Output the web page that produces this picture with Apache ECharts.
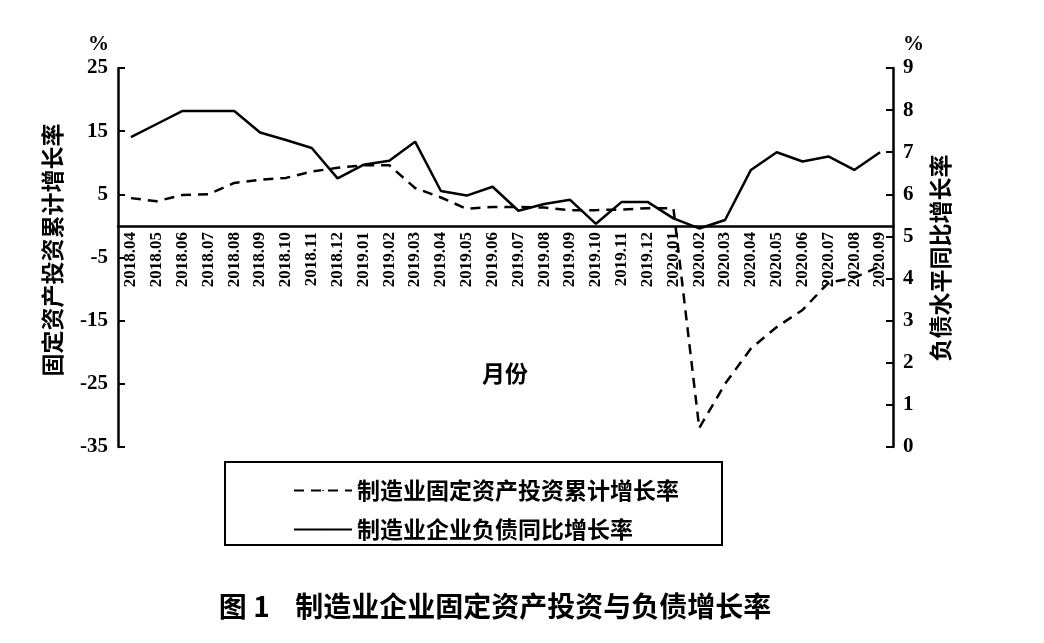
<!DOCTYPE html>
<html><head><meta charset="utf-8">
<script src="https://cdn.jsdelivr.net/npm/echarts@6/dist/echarts.min.js"></script>
<style>html,body{margin:0;padding:0;background:#fff}#c{width:1044px;height:643px}</style>
</head><body><div id="c"></div>
<script>
const categories=['2018.04','2018.05','2018.06','2018.07','2018.08','2018.09','2018.10','2018.11','2018.12','2019.01','2019.02','2019.03','2019.04','2019.05','2019.06','2019.07','2019.08','2019.09','2019.10','2019.11','2019.12','2020.01','2020.02','2020.03','2020.04','2020.05','2020.06','2020.07','2020.08','2020.09'];
const investment=[4.4,3.9,4.9,5.0,6.8,7.3,7.6,8.6,9.2,9.6,9.6,6.0,4.5,2.7,3.0,3.0,2.9,2.5,2.5,2.6,2.8,2.8,-32,-25,-19.4,-16,-13.3,-9,-8.2,-6.4];
const liability=[7.36,7.67,7.98,7.98,7.98,7.47,7.29,7.1,6.38,6.7,6.8,7.25,6.08,5.97,6.18,5.61,5.77,5.87,5.3,5.82,5.82,5.43,5.19,5.39,6.58,7.0,6.78,6.9,6.58,7.0];
const leftTicks={min:-35,max:25,interval:10};
const rightTicks={min:0,max:9,interval:1};
const serif='"Liberation Serif","Times New Roman",serif';
const cjk='"Noto Sans CJK SC",sans-serif';
const chart=echarts.init(document.getElementById('c'));
chart.setOption({
  animation:false,
  grid:{left:118,right:151,top:68,bottom:196},
  legend:{orient:'vertical',left:288,top:474,itemGap:16,itemWidth:58,itemHeight:2,
    textStyle:{fontFamily:cjk,fontSize:23,fontWeight:'bold',color:'#000'},
    data:['制造业固定资产投资累计增长率','制造业企业负债同比增长率']},
  xAxis:{type:'category',data:categories,offset:-221,
    axisLine:{onZero:false,lineStyle:{color:'#000',width:2.5}},
    axisTick:{inside:true,alignWithLabel:true,length:7,lineStyle:{color:'#000',width:2}},
    axisLabel:{rotate:90,interval:0,fontFamily:serif,fontWeight:'bold',fontSize:17,color:'#000',margin:6}},
  yAxis:[
    {type:'value',min:leftTicks.min,max:leftTicks.max,interval:leftTicks.interval,
     splitLine:{show:false},
     axisLine:{show:true,lineStyle:{color:'#000',width:2.5}},
     axisTick:{show:true,inside:true,length:7,lineStyle:{color:'#000',width:2}},
     axisLabel:{fontFamily:serif,fontWeight:'bold',fontSize:21,color:'#000',margin:10}},
    {type:'value',min:rightTicks.min,max:rightTicks.max,interval:rightTicks.interval,
     position:'right',splitLine:{show:false},
     axisLine:{show:true,lineStyle:{color:'#000',width:2.5}},
     axisTick:{show:true,inside:true,length:7,lineStyle:{color:'#000',width:2}},
     axisLabel:{fontFamily:serif,fontWeight:'bold',fontSize:21,color:'#000',margin:10}}
  ],
  series:[
    {name:'制造业固定资产投资累计增长率',type:'line',yAxisIndex:0,data:investment,symbol:'none',
     lineStyle:{color:'#000',width:2.5,type:[10,7]},itemStyle:{color:'#000'}},
    {name:'制造业企业负债同比增长率',type:'line',yAxisIndex:1,data:liability,symbol:'none',
     lineStyle:{color:'#000',width:2.5},itemStyle:{color:'#000'}}
  ],
  graphic:[
    {type:'text',left:88,top:34,style:{text:'%',font:'bold 21px '+serif,fill:'#000'}},
    {type:'text',left:903,top:34,style:{text:'%',font:'bold 21px '+serif,fill:'#000'}},
    {type:'text',x:52,y:250,rotation:Math.PI/2,style:{text:'固定资产投资累计增长率',font:'bold 23px '+cjk,fill:'#000',align:'center',verticalAlign:'middle'}},
    {type:'text',x:940,y:258,rotation:Math.PI/2,style:{text:'负债水平同比增长率',font:'bold 23px '+cjk,fill:'#000',align:'center',verticalAlign:'middle'}},
    {type:'text',x:505,y:373,style:{text:'月份',font:'bold 23px '+cjk,fill:'#000',align:'center',verticalAlign:'middle'}},
    {type:'rect',shape:{x:225,y:462,width:497,height:83},style:{fill:'none',stroke:'#000',lineWidth:2}},
    {type:'text',x:495,y:606,style:{text:'图 1    制造业企业固定资产投资与负债增长率',font:'bold 28px '+cjk,fill:'#000',align:'center',verticalAlign:'middle'}}
  ]
});
</script></body></html>
